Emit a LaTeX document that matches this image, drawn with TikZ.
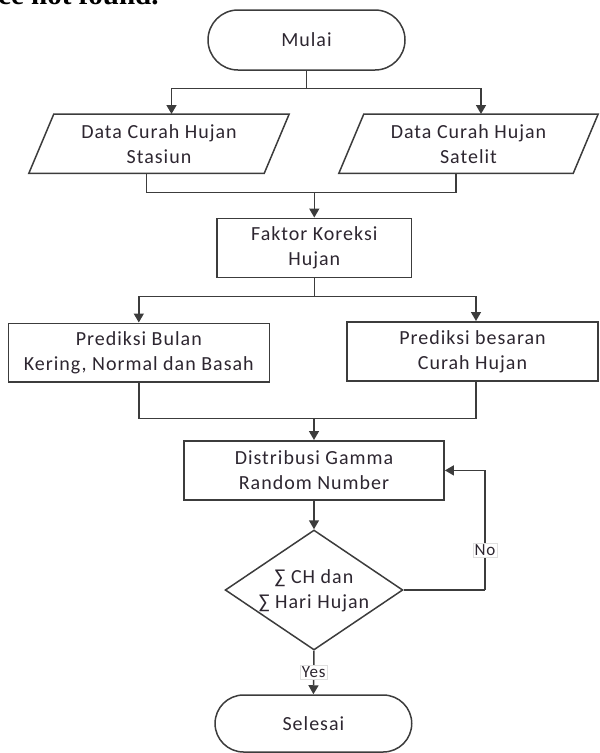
\documentclass[tikz,border=0pt]{standalone}
\usepackage{fontspec}
\setmainfont{Carlito}[LetterSpace=5]
\newfontfamily\capfont{Liberation Serif}
\usetikzlibrary{shapes.geometric,shapes.misc,arrows.meta,calc}
\definecolor{linec}{RGB}{60,60,60}
\definecolor{textc}{RGB}{45,38,48}
\tikzset{
  base/.style={inner sep=0pt, align=center, text=textc, font=\fontsize{20}{25}\selectfont},
  boxnode/.style={base, draw=linec, line width=1.5pt},
  termnode/.style={base, draw=linec, line width=1.5pt, rounded rectangle},
  plainnode/.style={base},
  conn/.style={draw=linec, line width=1.5pt},
  arr/.style={conn, -{Triangle[width=10pt,length=9pt]}},
  lbl/.style={base, font=\fontsize{17}{20}\selectfont, fill=white, draw=gray!25, line width=0.4pt, inner sep=1.5pt}
}
\begin{document}
\begin{tikzpicture}[x=1pt,y=-1pt]
\useasboundingbox (0,0) rectangle (600,753);
\begin{scope}
\clip (0,0) rectangle (600,753);
\node[anchor=base west, inner sep=0pt, font=\capfont\bfseries\fontsize{29}{29}\selectfont] (cap) at (-2,4) {ce not found.};
\end{scope}

% nodes
\node[termnode, minimum width=197pt, minimum height=60pt] (start) at (306.5,40) {Mulai};

\node[plainnode, minimum width=235pt, minimum height=59pt] (d1) at (159,143.7) {Data Curah Hujan\\Stasiun};
\node[plainnode, minimum width=234pt, minimum height=59pt] (d2) at (468.5,143.7) {Data Curah Hujan\\Satelit};
\draw[conn] ([xshift=-12.5pt]d1.south west) -- ([xshift=-12.5pt]d1.south east) -- ([xshift=12.5pt]d1.north east) -- ([xshift=12.5pt]d1.north west) -- cycle;
\draw[conn] ([xshift=-12.5pt]d2.south west) -- ([xshift=-12.5pt]d2.south east) -- ([xshift=12.5pt]d2.north east) -- ([xshift=12.5pt]d2.north west) -- cycle;

\node[boxnode, minimum width=194.5pt, minimum height=59pt] (fk) at (314.3,247.8) {Faktor Koreksi\\Hujan};
\node[boxnode, minimum width=261pt, minimum height=58.5pt] (p1) at (138.8,352.5) {Prediksi Bulan\\Kering, Normal dan Basah};
\node[boxnode, minimum width=251pt, minimum height=59.3pt] (p2) at (472.5,351.4) {Prediksi besaran\\Curah Hujan};
\node[boxnode, minimum width=260.3pt, minimum height=59.3pt] (dg) at (314,470.4) {Distribusi Gamma\\Random Number};
\node[diamond, draw=linec, line width=1.5pt, minimum width=177.7pt, minimum height=120pt, inner sep=0pt] (dec) at (314,590) {};
\node[plainnode] (dectext) at (314,591) {∑ CH dan\\∑ Hari Hujan};
\node[termnode, minimum width=196.7pt, minimum height=57pt] (sel) at (313.4,723.5) {Selesai};

% connectors
\coordinate (j1) at (306.5,88.3);
\coordinate (j2) at (314.3,192.3);
\coordinate (j3) at (314.3,296.7);
\coordinate (j4) at (314,418.3);

\draw[conn] (start.south) -- (j1);
\draw[arr] (j1) -| ([xshift=12.5pt]d1.north);
\draw[arr] (j1) -| ([xshift=12.5pt]d2.north);

\draw[conn] ([xshift=-12.5pt]d1.south) |- (j2);
\draw[conn] ([xshift=-12.5pt]d2.south) |- (j2);
\draw[arr] (j2) -- (fk.north);

\draw[conn] (fk.south) -- (j3);
\draw[arr] (j3) -| (p1.north);
\draw[arr] (j3) -| ([xshift=3.5pt]p2.north);

\draw[conn] (p1.south) |- (j4);
\draw[conn] ([xshift=3.5pt]p2.south) |- (j4);
\draw[arr] (j4) -- (dg.north);

\draw[arr] (dg.south) -- (dec.north);

\coordinate (fb) at (485,590);
\draw[conn] (dec.east) -- (fb);
\draw[arr] (fb) |- (dg.east) node[lbl, pos=0.167] (no) {No};

\draw[arr] (dec.south) -- (sel.north) node[lbl, pos=0.5] (yes) {Yes};
\end{tikzpicture}
\end{document}
